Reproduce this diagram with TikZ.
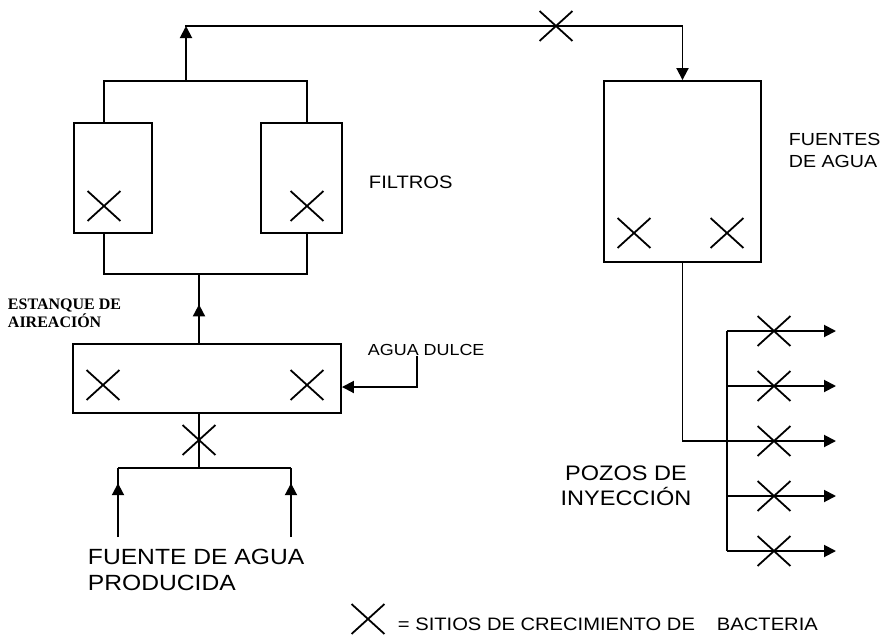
\documentclass[tikz,border=0pt]{standalone}
\usepackage{fontspec}
\setmainfont{Liberation Sans}[FakeStretch=1.12]
\newfontfamily\estfont{Liberation Serif}
\usetikzlibrary{shapes.misc,arrows.meta,decorations.markings}
\newcommand{\tam}[1]{\fontsize{#1}{#1}\selectfont}

\begin{document}
\begin{tikzpicture}[x=1pt,y=-1pt,line width=1.9pt,
    tanque/.style={draw,rectangle,inner sep=0pt},
    cruz/.style={draw,cross out,inner sep=0pt,minimum width=31pt,minimum height=28pt,line width=1.8pt},
    flecha/.style={-{Triangle[length=12pt,width=12pt]}},
    medio/.style={postaction={decorate},decoration={markings,mark=at position #1 with {\arrow{Triangle[length=12pt,width=12pt]}}}},
    lbl/.style={inner sep=0pt,anchor=base west}]
    \useasboundingbox (0,0) rectangle (886,635);

    \node[tanque,minimum width=78pt,minimum height=110pt] (filtA) at (113,178) {};
    \node[tanque,minimum width=81pt,minimum height=110pt] (filtB) at (301.5,178) {};
    \node[tanque,minimum width=268pt,minimum height=69pt] (tanq) at (207,378.5) {};
    \node[tanque,minimum width=157pt,minimum height=181pt] (fuentes) at (682.5,171.5) {};

    \coordinate (brA) at (104,81);
    \coordinate (brB) at (307,81);
    \coordinate (bcA) at (104,274);
    \coordinate (bcB) at (307,274);
    \coordinate (sal) at (186,81);
    \coordinate (tl) at (186,26);
    \coordinate (sube) at (199,274);
    \coordinate (jn) at (199,468);
    \coordinate (srcA) at (118,537);
    \coordinate (srcB) at (291,537);
    \coordinate (dq) at (417,387);

    \draw (filtA.north -| brA) -- (brA) -- (brB) -- (filtB.north -| brB);
    \draw (filtA.south -| bcA) -- (bcA) -- (bcB) -- (filtB.south -| bcB);
    \draw[flecha] (sal) -- (tl);
    \draw[flecha] ([xshift=-0.95pt]tl) -| (fuentes.north);
    \draw[medio=0.56] (tanq.north -| sube) -- (sube);
    \draw (tanq.south -| jn) -- (jn);
    \draw (srcA |- jn) -- (srcB |- jn);
    \draw[medio=0.78] (srcA) -- (srcA |- jn);
    \draw[medio=0.78] (srcB) -- (srcB |- jn);

    \node[cruz] (xTop) at (556,26) {};
    \node[cruz] (xfA) at (104,206) {};
    \node[cruz] (xfB) at (307,206) {};
    \node[cruz] (xtA) at (103,385) {};
    \node[cruz] (xtB) at (307,385) {};
    \node[cruz] (xjn) at (199,440) {};
    \node[cruz] (xuA) at (634,233) {};
    \node[cruz] (xuB) at (727,233) {};

    \foreach \y [count=\i] in {331,386,441,496,551}{
        \coordinate (m\i) at (727,\y);
        \coordinate (w\i) at (836,\y);
        \draw[flecha] (m\i) -- (w\i);
        \node[cruz] (xw\i) at (774,\y) {};
    }
    \draw (m1) -- (m5);
    \draw (fuentes.south) |- (m3);

    \node[lbl,font=\tam{18}] (filtros) at (368,188.5) {FILTROS};
    \node[lbl,font=\tam{17.5}] (fue1) at (788,145) {FUENTES};
    \node[lbl,font=\tam{17.5}] (fue2) at (788,167) {DE AGUA};
    \node[lbl,font=\estfont\bfseries\tam{16}] (est1) at (7,309) {ESTANQUE DE};
    \node[lbl,font=\estfont\bfseries\tam{16}] (est2) at (7,327) {AIREACIÓN};
    \node[lbl,font=\tam{16}] (dulce) at (367,355) {AGUA DULCE};
    \draw[flecha] (dq |- dulce.south) -- (dq) -- (dq -| tanq.east);
    \node[lbl,font=\tam{22}] (prod1) at (87,564) {FUENTE DE AGUA};
    \node[lbl,font=\tam{22}] (prod2) at (87,590) {PRODUCIDA};
    \node[lbl,anchor=base,font=\tam{21}] (poz1) at (626,480) {POZOS DE};
    \node[lbl,anchor=base,font=\tam{21}] (poz2) at (626,505) {INYECCIÓN};

    \node[cruz] (xley) at (368,619) {};
    \node[lbl,font=\tam{18}] (ley) at (397,630) {= SITIOS DE CRECIMIENTO DE\hspace{22pt}BACTERIA};
\end{tikzpicture}
\end{document}
